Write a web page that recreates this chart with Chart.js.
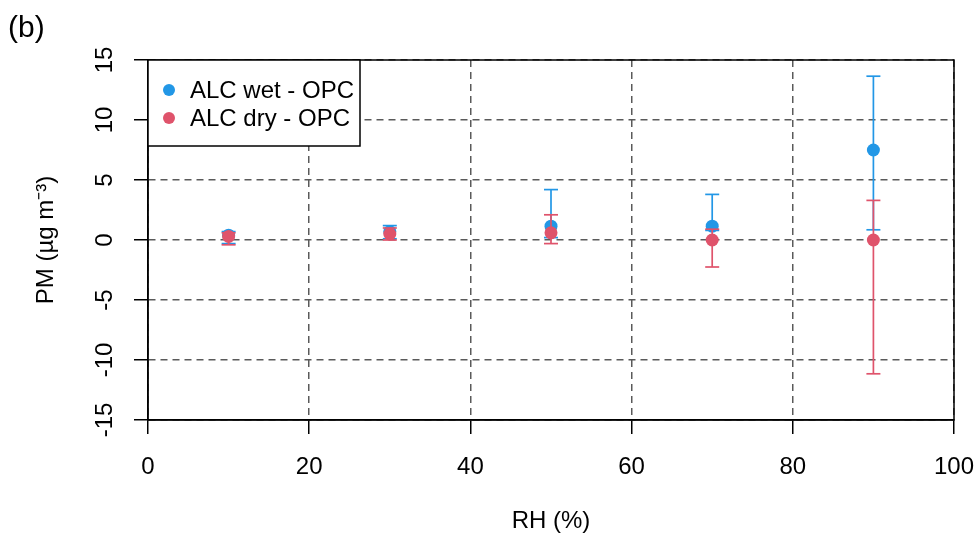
<!DOCTYPE html>
<html>
<head>
<meta charset="utf-8">
<script src="https://cdn.jsdelivr.net/npm/chart.js@4"></script>
<style>
  html, body { margin: 0; padding: 0; background: #fff; }
</style>
</head>
<body>
<canvas id="myChart" width="978" height="536"></canvas>
<script>
// RH classes and PM differences (ug m-3)
var rh = [10, 30, 50, 70, 90];
var wetMean = [0.4, 0.7, 1.15, 1.15, 7.5];
var wetLow = [-0.3, 0.1, 0.2, 0.8, 0.85];
var wetHigh = [0.7, 1.2, 4.2, 3.8, 13.65];
var dryMean = [0.3, 0.5, 0.6, 0.0, 0.0];
var dryLow = [-0.4, 0.0, -0.3, -2.25, -11.15];
var dryHigh = [0.6, 1.0, 2.1, 0.9, 3.3];
var xTicks = [0, 20, 40, 60, 80, 100];
var yTicks = [-15, -10, -5, 0, 5, 10, 15];

var blue = "#2297E6";
var red = "#DF536B";
var fontFam = "'Liberation Sans', Arial, sans-serif";

function pointsOf(xs, ys) {
  return xs.map(function (x, i) { return { x: x, y: ys[i] }; });
}

// one small line dataset per error bar, caps are drawn as 'line' point style
function errorBars(xs, lo, hi, color, order) {
  return xs.map(function (x, i) {
    return {
      label: "_err",
      data: [{ x: x, y: lo[i] }, { x: x, y: hi[i] }],
      borderColor: color,
      borderWidth: 1.7,
      pointStyle: "line",
      pointRadius: 7,
      pointHoverRadius: 7,
      pointBorderColor: color,
      pointBorderWidth: 1.7,
      showLine: true,
      order: order
    };
  });
}

var datasets = [
  {
    label: "ALC wet - OPC",
    data: pointsOf(rh, wetMean),
    showLine: false,
    pointRadius: 6.5,
    pointHoverRadius: 6.5,
    pointBackgroundColor: blue,
    pointBorderWidth: 0,
    borderColor: blue,
    order: 2
  },
  {
    label: "ALC dry - OPC",
    data: pointsOf(rh, dryMean),
    showLine: false,
    pointRadius: 6.5,
    pointHoverRadius: 6.5,
    pointBackgroundColor: red,
    pointBorderWidth: 0,
    borderColor: red,
    order: 0
  }
].concat(errorBars(rh, wetLow, wetHigh, blue, 3))
 .concat(errorBars(rh, dryLow, dryHigh, red, 1));

// frame round the plot region, legend box and panel letter
var extras = {
  id: "extras",
  afterDraw: function (chart) {
    var ctx = chart.ctx;
    var a = chart.chartArea;
    ctx.save();
    ctx.setLineDash([]);
    ctx.lineWidth = 1.5;
    ctx.strokeStyle = "#000";
    ctx.strokeRect(a.left, a.top, a.right - a.left, a.bottom - a.top);

    // legend
    var w = 212, h = 86;
    ctx.fillStyle = "#fff";
    ctx.fillRect(a.left, a.top, w, h);
    ctx.strokeRect(a.left, a.top, w, h);
    ctx.font = "24px " + fontFam;
    ctx.textBaseline = "middle";
    ctx.textAlign = "left";
    for (var i = 0; i < 2; i++) {
      var ds = chart.data.datasets[i];
      var cy = a.top + 30 + i * 28;
      ctx.fillStyle = ds.pointBackgroundColor;
      ctx.beginPath();
      ctx.arc(a.left + 21, cy, 6, 0, Math.PI * 2);
      ctx.fill();
      ctx.fillStyle = "#000";
      ctx.fillText(ds.label, a.left + 42, cy + 1);
    }

    ctx.font = "30px " + fontFam;
    ctx.textBaseline = "alphabetic";
    ctx.fillText("(b)", 8, 37);
    ctx.restore();
  }
};

var ctx = document.getElementById("myChart").getContext("2d");
var myChart = new Chart(ctx, {
  type: "line",
  data: { datasets: datasets },
  plugins: [extras],
  options: {
    responsive: false,
    devicePixelRatio: 1,
    animation: false,
    events: [],
    layout: { padding: { left: 0, top: 60, right: 24, bottom: 0 } },
    plugins: {
      legend: { display: false },
      tooltip: { enabled: false },
      title: { display: false }
    },
    scales: {
      x: {
        type: "linear",
        min: 0,
        max: 100,
        afterBuildTicks: function (scale) {
          scale.ticks = xTicks.map(function (v) { return { value: v }; });
        },
        afterFit: function (scale) {
          scale.height = 116;
          scale.paddingLeft = 0;
          scale.paddingRight = 0;
        },
        grid: {
          color: "#5a5a5a",
          lineWidth: 1.5,
          tickColor: "#000",
          tickLength: 14,
          tickWidth: 1.5
        },
        border: { display: true, color: "#000", width: 1.5, dash: [7, 5] },
        ticks: {
          color: "#000",
          font: { family: fontFam, size: 24 },
          padding: 19,
          maxRotation: 0,
          minRotation: 0
        },
        title: {
          display: true,
          text: "RH (%)",
          color: "#000",
          font: { family: fontFam, size: 24 },
          padding: { top: 0, bottom: 0 }
        }
      },
      y: {
        type: "linear",
        min: -15,
        max: 15,
        afterBuildTicks: function (scale) {
          scale.ticks = yTicks.map(function (v) { return { value: v }; });
        },
        afterFit: function (scale) {
          scale.width = 148;
          scale.paddingTop = 0;
          scale.paddingBottom = 0;
        },
        grid: {
          color: "#5a5a5a",
          lineWidth: 1.5,
          tickColor: "#000",
          tickLength: 14,
          tickWidth: 1.5
        },
        border: { display: true, color: "#000", width: 1.5, dash: [7, 5] },
        ticks: {
          color: "#000",
          font: { family: fontFam, size: 24 },
          minRotation: 90,
          maxRotation: 90,
          crossAlign: "center",
          padding: 11
        },
        title: {
          display: true,
          text: "PM (µg m⁻³)",
          color: "#000",
          font: { family: fontFam, size: 24 },
          padding: { top: 32, bottom: 0 }
        }
      }
    }
  }
});
</script>
</body>
</html>
